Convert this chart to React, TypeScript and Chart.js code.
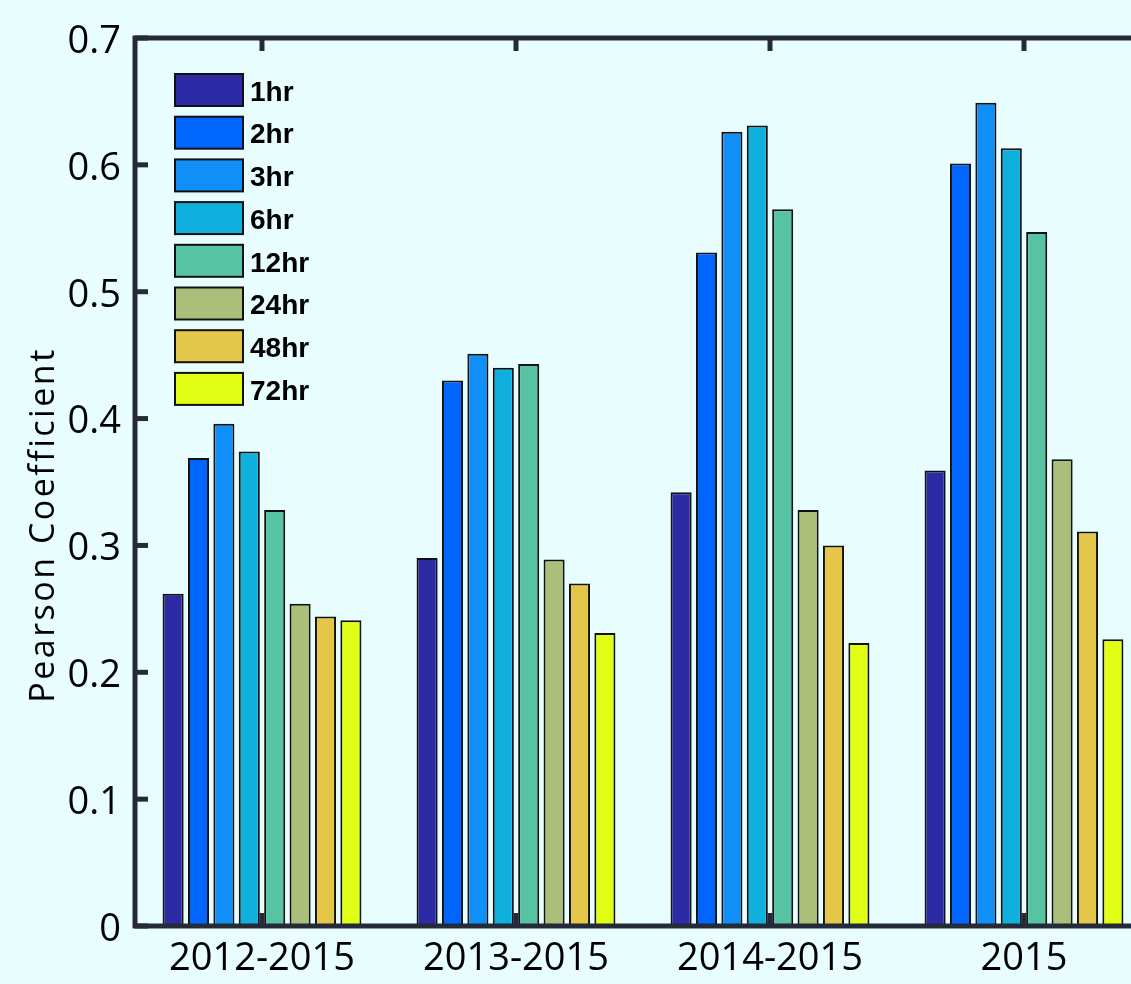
import React, { useEffect, useRef } from "react";
import { Chart, registerables } from "chart.js";

Chart.register(...registerables);

const categories = ["2012-2015", "2013-2015", "2014-2015", "2015"];
const seriesLabels = ["1hr", "2hr", "3hr", "6hr", "12hr", "24hr", "48hr", "72hr"];
const seriesColors = ["#2d2aa5", "#0066ff", "#108ff8", "#10b0de", "#56c3a3", "#abbf7b", "#e4c648", "#e1ff14"];
const v1hr = [0.262, 0.290, 0.342, 0.359];
const v2hr = [0.369, 0.430, 0.531, 0.601];
const v3hr = [0.396, 0.451, 0.626, 0.649];
const v6hr = [0.374, 0.440, 0.631, 0.613];
const v12hr = [0.328, 0.443, 0.565, 0.547];
const v24hr = [0.254, 0.289, 0.328, 0.368];
const v48hr = [0.244, 0.270, 0.300, 0.311];
const v72hr = [0.241, 0.231, 0.223, 0.226];
const seriesValues = [v1hr, v2hr, v3hr, v6hr, v12hr, v24hr, v48hr, v72hr];
const yTickLabels = ["0", "0.1", "0.2", "0.3", "0.4", "0.5", "0.6", "0.7"];
const yTitle = "Pearson Coefficient";

const BG = "#e8fefe";
const AXIS = "#252a38";

const boxPlugin = {
  id: "boxAxes",
  afterDatasetsDraw(chart: any) {
    const { ctx, chartArea } = chart;
    const { left, right, top, bottom } = chartArea;
    const xs = chart.scales.x;
    const ys = chart.scales.y;
    ctx.save();
    ctx.strokeStyle = AXIS;
    ctx.fillStyle = AXIS;
    ctx.lineWidth = 5;
    const tl = 13;
    categories.forEach((_, i) => {
      const x = xs.getPixelForValue(i);
      ctx.fillRect(x - 2.5, top, 5, tl);
      ctx.fillRect(x - 2.5, bottom - tl, 5, tl);
    });
    yTickLabels.forEach((_, i) => {
      const y = ys.getPixelForValue(i * 0.1);
      ctx.fillRect(left, y - 2.5, tl, 5);
      ctx.fillRect(right - tl, y - 2.5, tl, 5);
    });
    ctx.beginPath();
    ctx.rect(left, top, right - left, bottom - top);
    ctx.stroke();
    // legend
    const lx = 175, ly0 = 74, bw = 68, bh = 32, step = 42.7;
    ctx.font = "bold 28px 'Liberation Sans', Arial, sans-serif";
    ctx.textBaseline = "middle";
    ctx.textAlign = "left";
    chart.data.datasets.forEach((ds: any, i: number) => {
      const y = ly0 + i * step;
      ctx.fillStyle = ds.backgroundColor;
      ctx.fillRect(lx, y, bw, bh);
      ctx.lineWidth = 2;
      ctx.strokeStyle = "#111";
      ctx.strokeRect(lx, y, bw, bh);
      ctx.fillStyle = "#000";
      ctx.fillText(ds.label, lx + bw + 7, y + bh / 2 + 3);
    });
    // y title
    ctx.translate(44, 525);
    ctx.rotate(-Math.PI / 2);
    ctx.textAlign = "center";
    ctx.textBaseline = "middle";
    ctx.font = "34px 'Open Sans', sans-serif";
    try { (ctx as any).letterSpacing = "2.5px"; } catch (e) {}
    ctx.fillStyle = "#000";
    ctx.fillText(yTitle, 0, 0);
    ctx.restore();
  },
};

const bgPlugin = {
  id: "bg",
  beforeDraw(chart: any) {
    const { ctx, width, height } = chart;
    ctx.save();
    ctx.fillStyle = BG;
    ctx.fillRect(0, 0, width, height);
    ctx.restore();
  },
};

export default function App() {
  const ref = useRef<HTMLCanvasElement>(null);
  useEffect(() => {
    if (!ref.current) return;
    const chart = new Chart(ref.current, {
      type: "bar",
      data: {
        labels: categories,
        datasets: seriesLabels.map((lab, i) => ({
          label: lab,
          data: seriesValues[i],
          backgroundColor: seriesColors[i],
          borderColor: "#111",
          borderWidth: 2,
          categoryPercentage: 0.8,
          barPercentage: 0.83,
        })),
      },
      options: {
        animation: false,
        responsive: false,
        maintainAspectRatio: false,
        layout: { padding: { left: 0, top: 38, right: 9, bottom: 0 } },
        plugins: { legend: { display: false }, tooltip: { enabled: false } },
        scales: {
          x: {
            grid: { display: false, drawTicks: false },
            border: { display: false },
            ticks: { color: "#000", font: { family: "'Open Sans', sans-serif", size: 38 }, padding: 10 },
            afterFit: (s: any) => { s.height = 58; },
          },
          y: {
            min: 0,
            max: 0.7,
            grid: { display: false, drawTicks: false },
            border: { display: false },
            ticks: {
              stepSize: 0.1,
              color: "#000",
              labelOffset: 4,
              padding: 14,
              font: { family: "'Open Sans', sans-serif", size: 38 },
              callback: (_v: any, i: number) => yTickLabels[i],
            },
            afterFit: (s: any) => { s.width = 135; },
          },
        },
      },
      plugins: [bgPlugin, boxPlugin],
    });
    return () => chart.destroy();
  }, []);
  return (
    <div style={{ position: "absolute", left: 0, top: 0, width: 1131, height: 984, overflow: "hidden", background: BG }}>
      <canvas ref={ref} width={1160} height={984} style={{ display: "block", width: 1160, height: 984 }} />
    </div>
  );
}
